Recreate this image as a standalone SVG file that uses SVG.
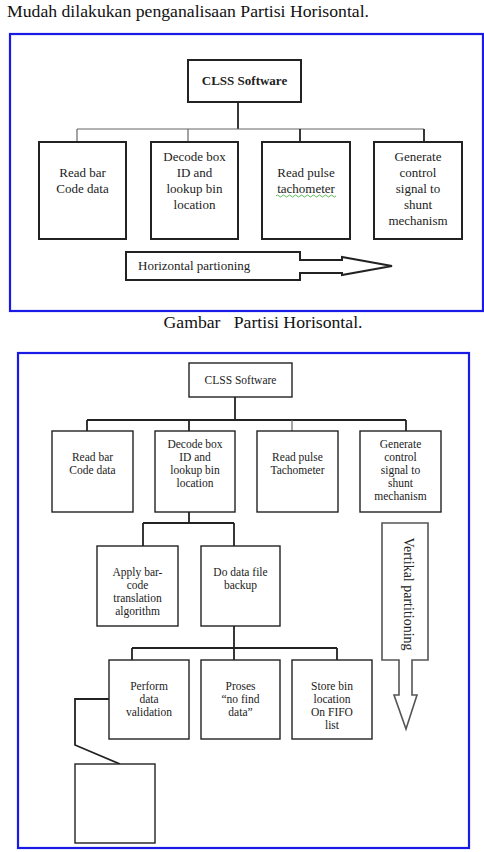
<svg xmlns="http://www.w3.org/2000/svg" width="484" height="852" viewBox="0 0 484 852">
  <style>
    text { font-family: "Liberation Serif", "Times New Roman", serif; }
    .page { fill: #111; font-size: 17.7px; }
    .frame { fill: none; stroke: #1a1ae6; stroke-width: 2.2; }
    .box1 { fill: #fff; stroke: #222; stroke-width: 2; }
    .box2 { fill: #fff; stroke: #222; stroke-width: 1.4; }
    .lbl1 { font-size: 13px; fill: #222; text-anchor: middle; }
    .lbl2 { font-size: 11.5px; fill: #222; text-anchor: middle; }
    .thin { fill: none; stroke: #666; stroke-width: 1.2; }
    .dark { fill: none; stroke: #222; stroke-width: 1.8; }
  </style>
  <rect width="484" height="852" fill="#fff"/>

  <!-- page text -->
  <text class="page" x="7" y="17">Mudah dilakukan penganalisaan Partisi Horisontal.</text>
  <text class="page" x="263" y="328" style="text-anchor: middle" xml:space="preserve">Gambar   Partisi Horisontal.</text>

  <!-- ===== Horizontal partitioning chart ===== -->
  <rect class="frame" x="10" y="34" width="473" height="277"/>

  <g id="h-connectors">
    <line class="dark" x1="238" y1="102" x2="238" y2="129"/>
    <line class="thin" x1="77" y1="129" x2="424" y2="129"/>
    <line class="thin" x1="77" y1="129" x2="77" y2="142"/>
    <line class="thin" x1="188" y1="129" x2="188" y2="142"/>
    <line class="dark" x1="300" y1="129" x2="300" y2="142"/>
    <line class="dark" x1="424" y1="129" x2="424" y2="142"/>
  </g>

  <g id="h-root">
    <rect class="box1" x="188" y="60" width="113" height="42"/>
    <text class="lbl1" x="244.5" y="85" style="font-weight: bold">CLSS Software</text>
  </g>
  <g id="h-read-bar">
    <rect class="box1" x="39" y="142" width="87" height="97"/>
    <text class="lbl1" x="82.5" y="177">Read bar</text>
    <text class="lbl1" x="82.5" y="193">Code data</text>
  </g>
  <g id="h-decode">
    <rect class="box1" x="151" y="142" width="87" height="97"/>
    <text class="lbl1" x="194.5" y="161">Decode box</text>
    <text class="lbl1" x="194.5" y="177">ID and</text>
    <text class="lbl1" x="194.5" y="193">lookup bin</text>
    <text class="lbl1" x="194.5" y="209">location</text>
  </g>
  <g id="h-read-pulse">
    <rect class="box1" x="262" y="142" width="88" height="97"/>
    <text class="lbl1" x="306" y="177">Read pulse</text>
    <text class="lbl1" x="306" y="193">tachometer</text>
    <!-- spell-check squiggle -->
    <path d="M276 196 q1.5 -2 3 0 t3 0 t3 0 t3 0 t3 0 t3 0 t3 0 t3 0 t3 0 t3 0 t3 0 t3 0 t3 0 t3 0 t3 0 t3 0 t3 0 t3 0 t3 0 t3 0" fill="none" stroke="#3a3" stroke-width="0.8"/>
  </g>
  <g id="h-generate">
    <rect class="box1" x="374" y="142" width="88" height="97"/>
    <text class="lbl1" x="418" y="161">Generate</text>
    <text class="lbl1" x="418" y="177">control</text>
    <text class="lbl1" x="418" y="193">signal to</text>
    <text class="lbl1" x="418" y="209">shunt</text>
    <text class="lbl1" x="418" y="225">mechanism</text>
  </g>
  <g id="h-arrow">
    <polygon points="126,252 300,252 300,260 342,260 342,257 392,266 342,275 342,273 300,273 300,280 126,280" fill="#fff" stroke="#222" stroke-width="2"/>
    <text class="lbl1" x="138" y="270" style="text-anchor: start">Horizontal partioning</text>
  </g>

  <!-- ===== Vertical partitioning chart ===== -->
  <rect class="frame" x="18" y="353" width="451" height="495"/>

  <g id="v-connectors">
    <line class="dark" x1="235" y1="397" x2="235" y2="420"/>
    <line class="dark" x1="87" y1="420" x2="406" y2="420"/>
    <line class="dark" x1="87" y1="420" x2="87" y2="431"/>
    <line class="dark" x1="189" y1="420" x2="189" y2="431"/>
    <line class="thin" x1="292" y1="420" x2="292" y2="431"/>
    <line class="dark" x1="406" y1="420" x2="406" y2="431"/>
    <line class="dark" x1="189" y1="512" x2="189" y2="523"/>
    <line class="dark" x1="143" y1="523" x2="234" y2="523"/>
    <line class="dark" x1="143" y1="523" x2="143" y2="546"/>
    <line class="dark" x1="234" y1="523" x2="234" y2="546"/>
    <line class="dark" x1="234" y1="626" x2="234" y2="648"/>
    <line class="dark" x1="132" y1="648" x2="337" y2="648"/>
    <line class="dark" x1="132" y1="648" x2="132" y2="660"/>
    <line class="dark" x1="234" y1="648" x2="234" y2="660"/>
    <line class="dark" x1="337" y1="648" x2="337" y2="660"/>
    <polyline class="dark" points="109,699 75,699 75,745 120,764"/>
  </g>

  <g id="v-root">
    <rect class="box2" x="189" y="363" width="103" height="34"/>
    <text class="lbl2" x="240.5" y="384">CLSS Software</text>
  </g>
  <g id="v-read-bar">
    <rect class="box2" x="52" y="431" width="81" height="81"/>
    <text class="lbl2" x="92.5" y="461">Read bar</text>
    <text class="lbl2" x="92.5" y="474">Code data</text>
  </g>
  <g id="v-decode">
    <rect class="box2" x="155" y="431" width="80" height="81"/>
    <text class="lbl2" x="195" y="448">Decode box</text>
    <text class="lbl2" x="195" y="461">ID and</text>
    <text class="lbl2" x="195" y="474">lookup bin</text>
    <text class="lbl2" x="195" y="487">location</text>
  </g>
  <g id="v-read-pulse">
    <rect class="box2" x="257" y="431" width="81" height="81"/>
    <text class="lbl2" x="297.5" y="461">Read pulse</text>
    <text class="lbl2" x="297.5" y="474">Tachometer</text>
  </g>
  <g id="v-generate">
    <rect class="box2" x="360" y="431" width="81" height="81"/>
    <text class="lbl2" x="400.5" y="448">Generate</text>
    <text class="lbl2" x="400.5" y="461">control</text>
    <text class="lbl2" x="400.5" y="474">signal to</text>
    <text class="lbl2" x="400.5" y="487">shunt</text>
    <text class="lbl2" x="400.5" y="500">mechanism</text>
  </g>
  <g id="v-apply">
    <rect class="box2" x="97" y="546" width="81" height="80"/>
    <text class="lbl2" x="137.5" y="576">Apply bar-</text>
    <text class="lbl2" x="137.5" y="589">code</text>
    <text class="lbl2" x="137.5" y="602">translation</text>
    <text class="lbl2" x="137.5" y="615">algorithm</text>
  </g>
  <g id="v-backup">
    <rect class="box2" x="201" y="546" width="79" height="80"/>
    <text class="lbl2" x="240.5" y="576">Do data file</text>
    <text class="lbl2" x="240.5" y="589">backup</text>
  </g>
  <g id="v-validate">
    <rect class="box2" x="109" y="660" width="80" height="79"/>
    <text class="lbl2" x="149" y="690">Perform</text>
    <text class="lbl2" x="149" y="703">data</text>
    <text class="lbl2" x="149" y="716">validation</text>
  </g>
  <g id="v-nofind">
    <rect class="box2" x="201" y="660" width="79" height="79"/>
    <text class="lbl2" x="240.5" y="690">Proses</text>
    <text class="lbl2" x="240.5" y="703">“no find</text>
    <text class="lbl2" x="240.5" y="716">data”</text>
  </g>
  <g id="v-fifo">
    <rect class="box2" x="292" y="660" width="80" height="79"/>
    <text class="lbl2" x="332" y="690">Store bin</text>
    <text class="lbl2" x="332" y="703">location</text>
    <text class="lbl2" x="332" y="716">On FIFO</text>
    <text class="lbl2" x="332" y="729">list</text>
  </g>
  <g id="v-empty">
    <rect class="box2" x="75" y="764" width="80" height="79"/>
  </g>
  <g id="v-arrow">
    <polygon points="382,523 428,523 428,660 412,660 412,695 417,695 406,729 394,695 399,695 399,660 382,660" fill="#fff" stroke="#555" stroke-width="1.6"/>
    <text class="lbl2" x="403.5" y="594" style="font-size: 14px" transform="rotate(90 403.5 594)">Vertikal partitioning</text>
  </g>
</svg>
